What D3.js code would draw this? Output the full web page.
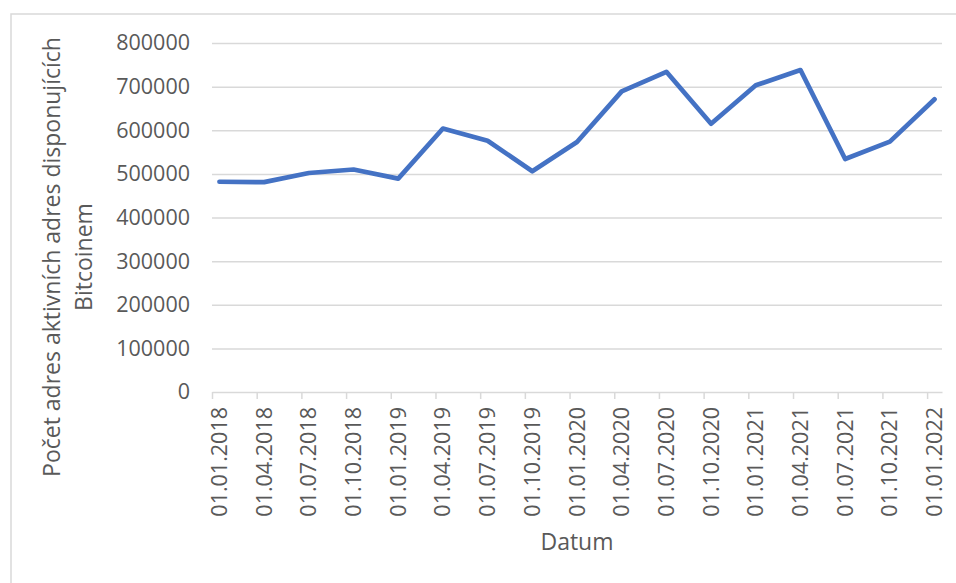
<!DOCTYPE html>
<html>
<head>
<meta charset="utf-8">
<script src="https://cdn.jsdelivr.net/npm/d3@7"></script>
<style>
  body { margin: 0; background: #fff; }
  text { font-family: "Open Sans", "Noto Sans", sans-serif; fill: #595959; }
</style>
</head>
<body>
<div id="chart"></div>
<script>
// chart data
var dates = ["01.01.2018", "01.04.2018", "01.07.2018", "01.10.2018",
  "01.01.2019", "01.04.2019", "01.07.2019", "01.10.2019",
  "01.01.2020", "01.04.2020", "01.07.2020", "01.10.2020",
  "01.01.2021", "01.04.2021", "01.07.2021", "01.10.2021", "01.01.2022"];
var addresses = [482000, 481000, 502000, 510000, 489000, 604000, 576000, 506000,
  573000, 689000, 734000, 615000, 703000, 738000, 534000, 574000, 671000];
var yTicks = [0, 100000, 200000, 300000, 400000, 500000, 600000, 700000, 800000];

var svgWidth = 956;
var svgHeight = 583;

var margin = { top: 43, right: 14, bottom: 191, left: 212 };
var width = svgWidth - margin.left - margin.right;
var height = svgHeight - margin.top - margin.bottom;

var svg = d3.select("#chart")
  .append("svg")
  .attr("width", svgWidth)
  .attr("height", svgHeight);

// outer chart frame
svg.append("rect")
  .attr("x", 11)
  .attr("y", 14)
  .attr("width", svgWidth)
  .attr("height", svgHeight)
  .attr("fill", "none")
  .attr("stroke", "#d9d9d9")
  .attr("stroke-width", 1.5);

var chartGroup = svg.append("g")
  .attr("transform", `translate(${margin.left}, ${margin.top})`);

// date axis with month base unit: 49 month slots, major tick every 3 months
var nMonths = (dates.length - 1) * 3 + 1;
var xScale = d3.scaleLinear()
  .domain([0, nMonths])
  .range([0, width]);

var yScale = d3.scaleLinear()
  .domain([0, 800000])
  .range([height, 0]);

var monthOf = (d, i) => i * 3;
var pointX = (d, i) => xScale(i * 3 + 0.5);

// gridlines
chartGroup.append("g")
  .call(d3.axisLeft(yScale).tickValues(yTicks.slice(1)).tickSize(-width).tickFormat(""))
  .call(g => g.select(".domain").remove())
  .call(g => g.selectAll("line").attr("stroke", "#d9d9d9").attr("stroke-width", 1.5));

// y tick labels
chartGroup.append("g")
  .call(d3.axisLeft(yScale).tickValues(yTicks).tickSize(0).tickPadding(22).tickFormat(d3.format("d")))
  .call(g => g.select(".domain").remove())
  .call(g => g.selectAll("text")
    .style("font-size", "21.5px")
    .attr("fill", "#595959"));

// x axis line and ticks
var xAxis = chartGroup.append("g")
  .attr("transform", `translate(0, ${height})`)
  .call(d3.axisBottom(xScale)
    .tickValues(dates.map(monthOf))
    .tickSize(7)
    .tickSizeOuter(0)
    .tickFormat(""));
xAxis.select(".domain").attr("stroke", "#d9d9d9").attr("stroke-width", 1.5);
xAxis.selectAll("line").attr("stroke", "#d9d9d9").attr("stroke-width", 1.5);

// rotated date labels
chartGroup.append("g")
  .selectAll("text")
  .data(dates)
  .enter()
  .append("text")
  .attr("transform", (d, i) => `translate(${pointX(d, i)}, ${height + 15}) rotate(-90)`)
  .attr("text-anchor", "end")
  .attr("dy", "0.35em")
  .style("font-size", "21.5px")
  .text(d => d);

// the line
var line = d3.line()
  .x((d, i) => pointX(d, i))
  .y(d => yScale(d));

chartGroup.append("path")
  .datum(addresses)
  .attr("d", line)
  .attr("fill", "none")
  .attr("stroke", "#4472c4")
  .attr("stroke-width", 4.7)
  .attr("stroke-linejoin", "round")
  .attr("stroke-linecap", "round");

// axis titles
svg.append("text")
  .attr("x", margin.left + width / 2)
  .attr("y", 550)
  .attr("text-anchor", "middle")
  .style("font-size", "23px")
  .text("Datum");

var yTitle = svg.append("text")
  .attr("transform", "translate(60, 257) rotate(-90)")
  .attr("text-anchor", "middle")
  .style("font-size", "23px");
yTitle.append("tspan")
  .attr("x", 0)
  .attr("y", 0)
  .text("Počet adres aktivních adres disponujících");
yTitle.append("tspan")
  .attr("x", 0)
  .attr("y", 32)
  .text("Bitcoinem");
</script>
</body>
</html>
